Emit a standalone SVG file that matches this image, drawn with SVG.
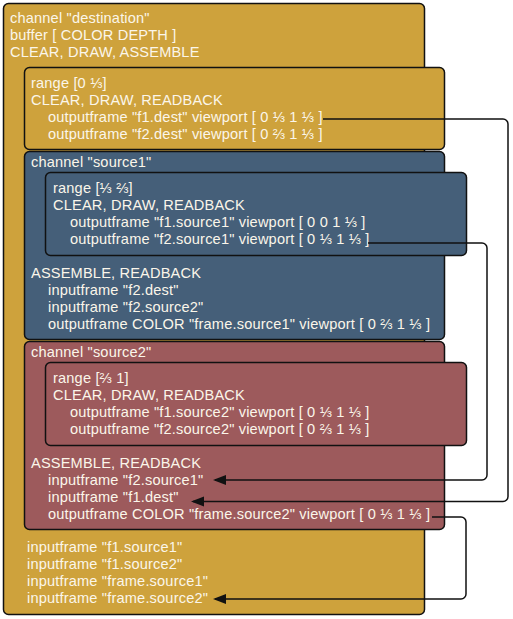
<svg xmlns="http://www.w3.org/2000/svg" width="513" height="619" viewBox="0 0 513 619">
<defs>
<style>
.box{stroke:#111;stroke-width:1.5}
.gold{fill:#CEA23C}
.blue{fill:#455F79}
.red{fill:#9D5A5C}
text{font-family:"Liberation Sans",Arial,"DejaVu Sans",sans-serif;font-size:14.6px;letter-spacing:0.17px;fill:#FBF6EA}
.conn{fill:none;stroke:#111;stroke-width:1.5}
</style>
<marker id="arrow" markerUnits="userSpaceOnUse" markerWidth="14" markerHeight="12" refX="11" refY="5" orient="auto">
<path d="M0,0 L13,5 L0,10 Z" fill="#111"/>
</marker>
</defs>
<g id="channel-destination">
<rect class="box gold" x="3.5" y="3.5" width="421" height="611" rx="5"/>
<text x="10" y="23">channel "destination"</text>
<text x="10" y="40">buffer [ COLOR DEPTH ]</text>
<text x="10" y="57">CLEAR, DRAW, ASSEMBLE</text>
<text x="27" y="552">inputframe "f1.source1"</text>
<text x="27" y="569">inputframe "f1.source2"</text>
<text x="27" y="586">inputframe "frame.source1"</text>
<text x="27" y="603">inputframe "frame.source2"</text>
</g>
<g id="range-destination">
<rect class="box gold" x="24.5" y="67.5" width="420" height="82" rx="5"/>
<text x="31" y="88">range [0 ⅓]</text>
<text x="31" y="105">CLEAR, DRAW, READBACK</text>
<text x="48" y="122">outputframe "f1.dest" viewport [ 0 ⅓ 1 ⅓ ]</text>
<text x="48" y="139">outputframe "f2.dest" viewport [ 0 ⅔ 1 ⅓ ]</text>
</g>
<g id="channel-source1">
<rect class="box blue" x="24.5" y="151.5" width="420" height="188" rx="5"/>
<text x="31" y="167">channel "source1"</text>
<text x="31" y="278">ASSEMBLE, READBACK</text>
<text x="48" y="295">inputframe "f2.dest"</text>
<text x="48" y="312">inputframe "f2.source2"</text>
<text x="48" y="329">outputframe COLOR "frame.source1" viewport [ 0 ⅔ 1 ⅓ ]</text>
</g>
<g id="range-source1">
<rect class="box blue" x="45.5" y="172.5" width="421" height="83" rx="5"/>
<text x="53" y="193">range [⅓ ⅔]</text>
<text x="53" y="210">CLEAR, DRAW, READBACK</text>
<text x="70" y="227">outputframe "f1.source1" viewport [ 0 0 1 ⅓ ]</text>
<text x="70" y="244">outputframe "f2.source1" viewport [ 0 ⅓ 1 ⅓ ]</text>
</g>
<g id="channel-source2">
<rect class="box red" x="24.5" y="341.5" width="420" height="188" rx="5"/>
<text x="31" y="357">channel "source2"</text>
<text x="31" y="468">ASSEMBLE, READBACK</text>
<text x="48" y="485">inputframe "f2.source1"</text>
<text x="48" y="502">inputframe "f1.dest"</text>
<text x="48" y="519">outputframe COLOR "frame.source2" viewport [ 0 ⅓ 1 ⅓ ]</text>
</g>
<g id="range-source2">
<rect class="box red" x="45.5" y="362.5" width="421" height="83" rx="5"/>
<text x="53" y="383">range [⅔ 1]</text>
<text x="53" y="400">CLEAR, DRAW, READBACK</text>
<text x="70" y="417">outputframe "f1.source2" viewport [ 0 ⅓ 1 ⅓ ]</text>
<text x="70" y="434">outputframe "f2.source2" viewport [ 0 ⅔ 1 ⅓ ]</text>
</g>
<g id="connectors">
<path class="conn" marker-end="url(#arrow)" d="M323,119 H503 A5,5 0 0 1 508,124 V496.5 A5,5 0 0 1 503,501.5 H193"/>
<path class="conn" marker-end="url(#arrow)" d="M368,243 H482 A5,5 0 0 1 487,248 V475 A5,5 0 0 1 482,480 H215"/>
<path class="conn" marker-end="url(#arrow)" d="M432,517 H461 A5,5 0 0 1 466,522 V594 A5,5 0 0 1 461,599 H215"/>
</g>
</svg>
